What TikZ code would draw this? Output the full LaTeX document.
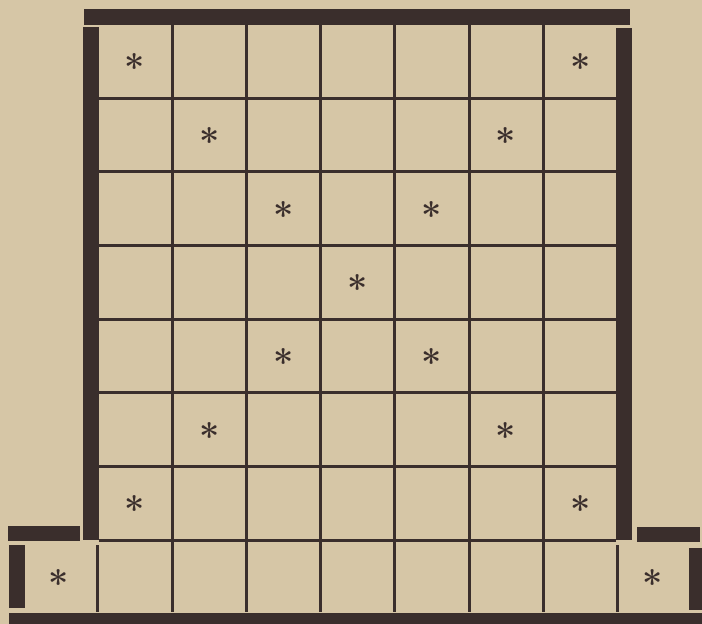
\documentclass[tikz,border=0pt]{standalone}
\begin{document}
\begin{tikzpicture}[x=1pt,y=-1pt,
  thinline/.style={draw=ink,line width=3pt},
  bar/.style={fill=ink},
  star/.style={inner sep=0pt,font=\fontsize{36}{36}\selectfont\bfseries,text=ink,yshift=-6pt}]
\definecolor{paper}{RGB}{214,198,166}
\definecolor{ink}{RGB}{58,46,44}
\fill[paper] (0,0) rectangle (702,624);
\useasboundingbox (0,0) rectangle (702,624);
% thick frame
\fill[bar] (84,9) rectangle (630,25);
\fill[bar] (83,27) rectangle (99,540);
\fill[bar] (616,28) rectangle (632,540);
\fill[bar] (8,526) rectangle (80,541);
\fill[bar] (637,527) rectangle (700,542);
\fill[bar] (9,545) rectangle (25,608);
\fill[bar] (689,548) rectangle (702,610);
\fill[bar] (9,613) rectangle (702,624);
% inner grid
\foreach \k in {1,...,6} {
  \draw[thinline] ({98+74.2*\k},25) -- ({98+74.2*\k},612);
  \draw[thinline] (99,{24.3+73.7*\k}) -- (616,{24.3+73.7*\k});
}
\draw[thinline] (99,540.5) -- (616,540.5);
\draw[thinline] (97,545) -- (97,612);
\draw[thinline] (617,545) -- (617,612);
% stars
\foreach \r/\c [count=\i] in {0/0,0/6,1/1,1/5,2/2,2/4,3/3,4/2,4/4,5/1,5/5,6/0,6/6}
  \node[star] (s\i) at ({98+74.2*(\c+0.5)},{24.3+73.7*(\r+0.5)}) {*};
\node[star] (bl) at (59,577) {*};
\node[star] (br) at (653,577) {*};
\end{tikzpicture}
\end{document}
